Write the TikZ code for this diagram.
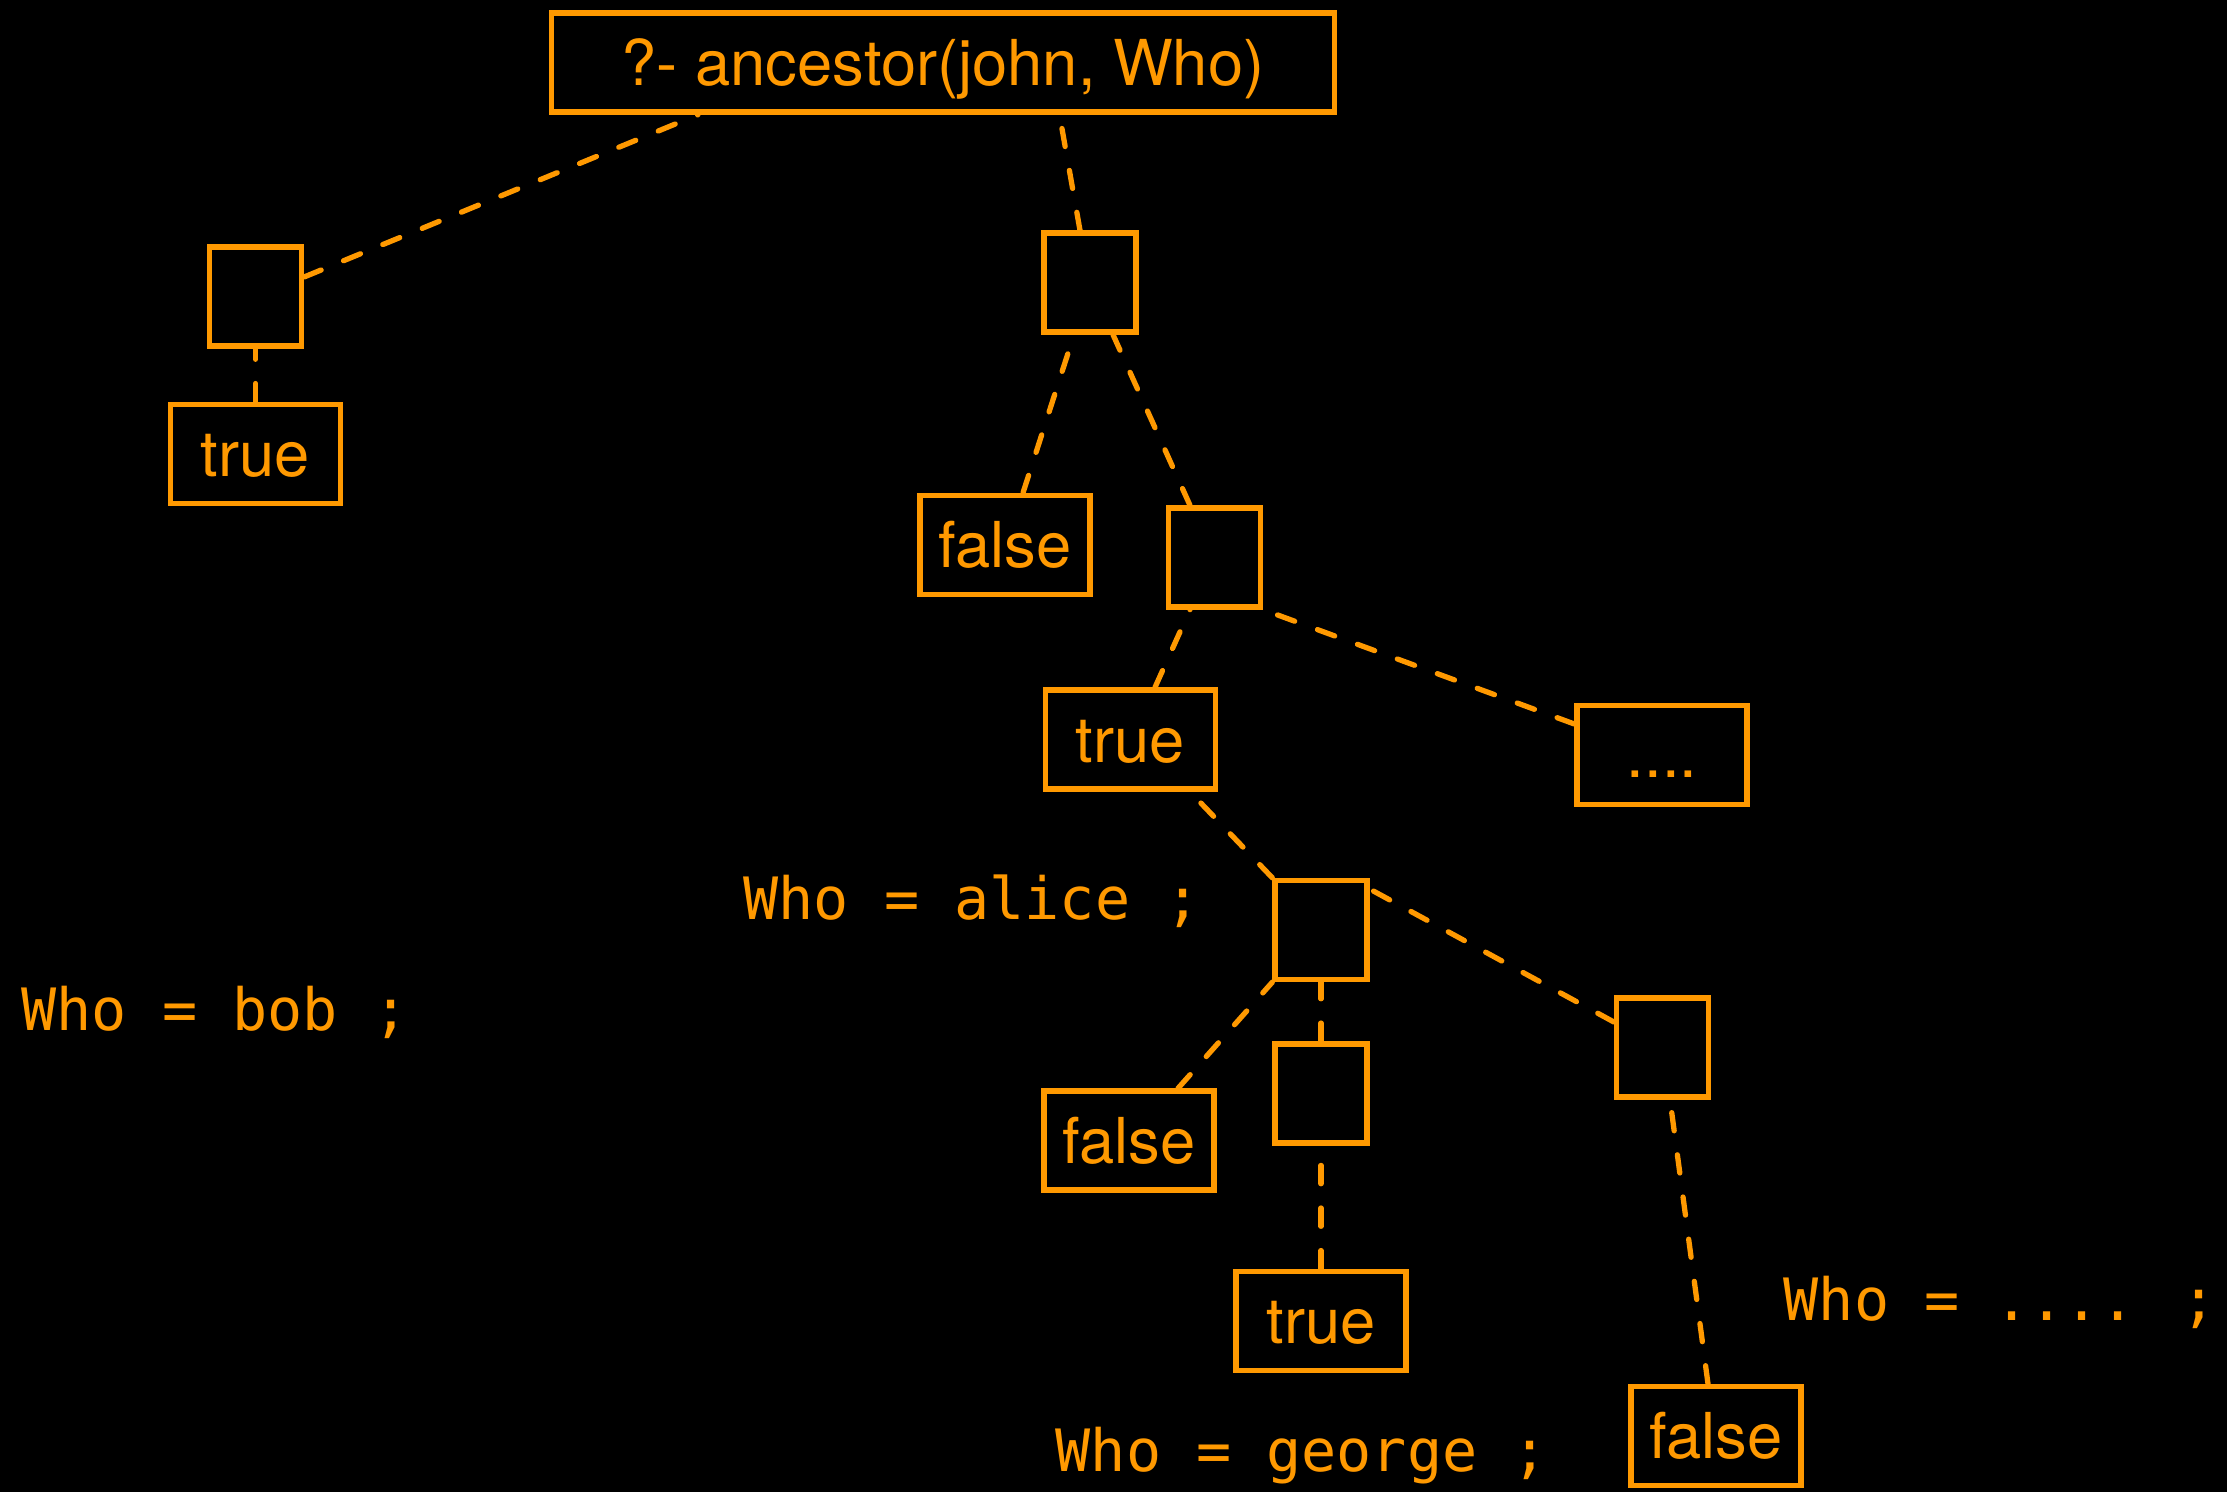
\documentclass[tikz,border=0pt]{standalone}
\usepackage{fontspec}
\setmainfont{TeX Gyre Heros}
\newfontfamily\monofont{DejaVu Sans Mono}
\usetikzlibrary{calc}
\definecolor{orng}{RGB}{255,153,0}
\begin{document}
\begin{tikzpicture}[x=0.01cm,y=-0.01cm,
  box/.style={draw=orng, line width=1.5pt, rectangle, inner sep=0pt, text=orng,
    font=\fontsize{18}{20}\selectfont, text height=13pt, text depth=0pt},
  emptybox/.style={box, minimum width=0.92cm, minimum height=0.99cm},
  textbox/.style={box, minimum width=1.70cm, minimum height=0.99cm},
  lbl/.style={text=orng, inner sep=0pt, anchor=base west,
    font=\monofont\fontsize{16.6}{18}\selectfont},
  conn/.style={draw=orng, line width=1.5pt, line cap=round,
    dash pattern=on 5.2pt off 6.9pt}]
\fill[black] (0,0) rectangle (2227,1492);
\useasboundingbox (0,0) rectangle (2227,1492);

% nodes
\node[box, minimum width=7.82cm, minimum height=0.99cm] (root) at (943,62.5) {?- ancestor(john, Who)};
\node[emptybox] (b1) at (255.5,296.5) {};
\node[textbox] (t1) at (255.5,454) {true};
\node[emptybox] (b2) at (1090,282.5) {};
\node[textbox] (f1) at (1005,545) {false};
\node[emptybox] (b3) at (1214.5,557.5) {};
\node[textbox] (t2) at (1130.5,739.5) {true};
\node[textbox] (dots) at (1662,755) {....};
\node[emptybox] (b4) at (1321,930) {};
\node[textbox] (f2) at (1129,1140.5) {false};
\node[emptybox] (b5) at (1321,1093.5) {};
\node[textbox] (t3) at (1321,1321) {true};
\node[emptybox] (b6) at (1662.5,1047.5) {};
\node[textbox] (f3) at (1716,1436) {false};

% labels
\node[lbl] (lbob) at (21,1031) {Who = bob ;};
\node[lbl] (lalice) at (743,920) {Who = alice ;};
\node[lbl] (lgeorge) at (1055,1471) {Who = george ;};
\node[lbl] (lmore) at (1783,1320) {Who = .... ;};

% connectors (drawn from child to parent)
\draw[conn] ([shift={(0,-19.5)}]b1.east) -- ([shift={(-245,0)}]root.south);
\draw[conn] ([shift={(-10,0)}]b2.north) -- ([shift={(116.5,0)}]root.south);
\draw[conn] (t1.north) -- (b1.south);
\draw[conn] ([shift={(18,0)}]f1.north) -- ([shift={(-16,0)}]b2.south);
\draw[conn] ([shift={(-24.5,0)}]b3.north) -- ([shift={(23,0)}]b2.south);
\draw[conn] ([shift={(24.5,0)}]t2.north) -- ([shift={(-24.5,0)}]b3.south);
\draw[conn] ([shift={(0,-31)}]dots.west) -- (b3.south east);
\draw[conn] (b4.north west) -- ([shift={(59.5,0)}]t2.south);
\draw[conn] ([shift={(0,-25.5)}]b6.west) -- ([shift={(0,-41)}]b4.east);
\draw[conn] ([shift={(49,0)}]f2.north) -- (b4.south west);
\draw[conn] (b5.north) -- (b4.south);
\draw[conn] (t3.north) -- (b5.south);
\draw[conn] ([shift={(-8,0)}]f3.north) -- ([shift={(7.5,0)}]b6.south);
\end{tikzpicture}
\end{document}
